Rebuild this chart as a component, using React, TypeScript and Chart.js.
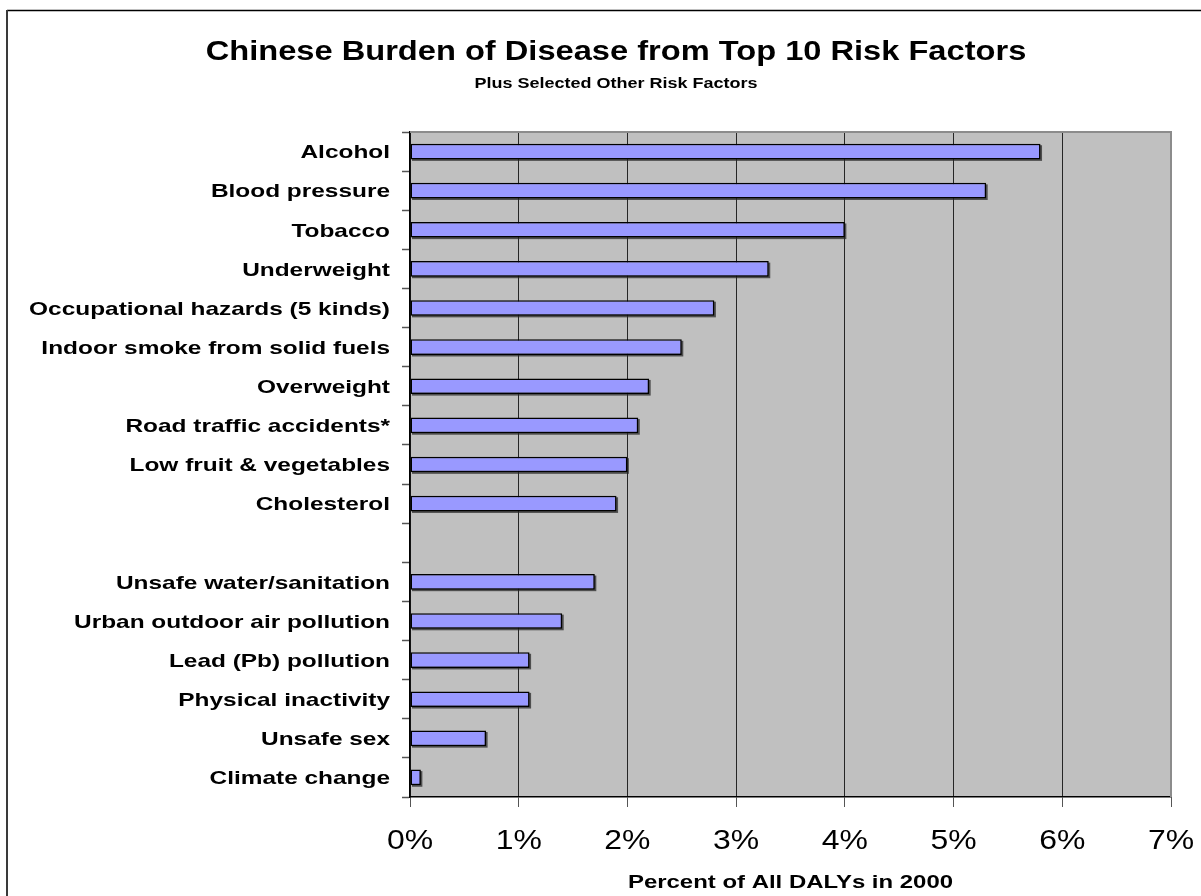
import React, { useEffect, useRef } from "react";
import { Chart, registerables } from "chart.js";

Chart.register(...registerables);

// Risk factors, top to bottom; the empty entry separates the top ten from the others.
const riskFactors = [
  "Alcohol",
  "Blood pressure",
  "Tobacco",
  "Underweight",
  "Occupational hazards (5 kinds)",
  "Indoor smoke from solid fuels",
  "Overweight",
  "Road traffic accidents*",
  "Low fruit & vegetables",
  "Cholesterol",
  "",
  "Unsafe water/sanitation",
  "Urban outdoor air pollution",
  "Lead (Pb) pollution",
  "Physical inactivity",
  "Unsafe sex",
  "Climate change",
];

// Share of all DALYs in 2000, percent.
const dalyPercent = [
  5.8, 5.3, 4.0, 3.3, 2.8, 2.5, 2.2, 2.1, 2.0, 1.9, null, 1.7, 1.4, 1.1, 1.1, 0.7, 0.1,
];

const xTickLabels = ["0%", "1%", "2%", "3%", "4%", "5%", "6%", "7%"];

const chartTitle = "Chinese Burden of Disease from Top 10 Risk Factors";
const chartSubtitle = "Plus Selected Other Risk Factors";
const xAxisTitle = "Percent of All DALYs in 2000";

const FONT = '"Liberation Sans", Arial, Helvetica, sans-serif';

// Draws text with a horizontal stretch factor, anchored at (x, baseline y).
function drawWideText(
  ctx: CanvasRenderingContext2D,
  text: string,
  x: number,
  y: number,
  font: string,
  sx: number,
  align: "left" | "center" | "right"
) {
  ctx.save();
  ctx.font = font;
  ctx.fillStyle = "#000";
  ctx.textAlign = "left";
  ctx.textBaseline = "alphabetic";
  const w = ctx.measureText(text).width * sx;
  const left = align === "right" ? x - w : align === "center" ? x - w / 2 : x;
  ctx.translate(left, y);
  ctx.scale(sx, 1);
  ctx.fillText(text, 0, 0);
  ctx.restore();
}

const framePlugin = {
  id: "frameAndText",
  beforeDraw(chart: any) {
    const { ctx, chartArea } = chart;
    ctx.save();
    ctx.fillStyle = "#ffffff";
    ctx.fillRect(0, 0, chart.width, chart.height);
    ctx.fillStyle = "#c0c0c0";
    ctx.fillRect(
      chartArea.left,
      chartArea.top,
      chartArea.right - chartArea.left,
      chartArea.bottom - chartArea.top
    );
    // outer chart frame
    ctx.strokeStyle = "#000";
    ctx.lineWidth = 1.5;
    ctx.beginPath();
    ctx.moveTo(7, 10.5);
    ctx.lineTo(chart.width + 5, 10.5);
    ctx.stroke();
    ctx.strokeStyle = "#3a3a3a";
    ctx.lineWidth = 2;
    ctx.beginPath();
    ctx.moveTo(7, 10);
    ctx.lineTo(7, chart.height + 5);
    ctx.stroke();
    ctx.restore();
  },
  beforeDatasetsDraw(chart: any) {
    // small drop shadow under each bar
    const { ctx } = chart;
    const meta = chart.getDatasetMeta(0);
    ctx.save();
    ctx.fillStyle = "rgba(40,40,40,0.75)";
    meta.data.forEach((bar: any, i: number) => {
      if (dalyPercent[i] == null) return;
      const p = bar.getProps(["x", "y", "base", "height"], true);
      ctx.fillRect(p.base + 1.5, p.y - p.height / 2 + 1.5, p.x - p.base, p.height);
    });
    ctx.restore();
  },
  afterDraw(chart: any) {
    const { ctx, chartArea } = chart;
    // plot area top and right edges
    ctx.save();
    ctx.strokeStyle = "#8c8c8c";
    ctx.lineWidth = 2;
    ctx.beginPath();
    ctx.moveTo(chartArea.left, chartArea.top);
    ctx.lineTo(chartArea.right, chartArea.top);
    ctx.lineTo(chartArea.right, chartArea.bottom);
    ctx.stroke();
    ctx.restore();

    const yScale = chart.scales.y;
    riskFactors.forEach((label, i) => {
      if (!label) return;
      const y = yScale.getPixelForTick(i);
      drawWideText(ctx, label, 390, y + 6.8, `bold 19px ${FONT}`, 1.285, "right");
    });

    const xScale = chart.scales.x;
    xScale.ticks.forEach((t: any, i: number) => {
      const x = xScale.getPixelForValue(t.value);
      drawWideText(ctx, xTickLabels[i], x, 849, `28px ${FONT}`, 1.14, "center");
    });

    const cx = 616;
    drawWideText(ctx, chartTitle, cx, 60, `bold 28px ${FONT}`, 1.165, "center");
    drawWideText(ctx, chartSubtitle, cx, 88, `bold 15px ${FONT}`, 1.2, "center");
    drawWideText(
      ctx,
      xAxisTitle,
      (chartArea.left + chartArea.right) / 2,
      888,
      `bold 19px ${FONT}`,
      1.26,
      "center"
    );
  },
};

export default function App() {
  const canvasRef = useRef<HTMLCanvasElement | null>(null);

  useEffect(() => {
    const canvas = canvasRef.current;
    if (!canvas) return;
    const chart = new Chart(canvas, {
      type: "bar",
      data: {
        labels: riskFactors,
        datasets: [
          {
            data: dalyPercent,
            backgroundColor: "#9999ff",
            borderColor: "#000000",
            borderWidth: 1.5,
            borderSkipped: false,
            barPercentage: 0.4,
            categoryPercentage: 1,
          },
        ],
      },
      options: {
        indexAxis: "y",
        responsive: false,
        animation: false,
        devicePixelRatio: 1,
        layout: { padding: { top: 132, right: 30, bottom: 0, left: 0 } },
        plugins: {
          legend: { display: false },
          title: { display: false },
          tooltip: { enabled: false },
        },
        scales: {
          y: {
            type: "category",
            offset: true,
            grid: {
              offset: true,
              drawOnChartArea: false,
              drawTicks: true,
              tickLength: 8,
              tickColor: "#555555",
              tickWidth: 1.5,
            },
            border: { display: true, color: "#000000", width: 1.5 },
            ticks: { display: false },
            afterFit: (scale: any) => {
              scale.width = 410;
            },
          },
          x: {
            type: "linear",
            min: 0,
            max: 7,
            ticks: { display: false, stepSize: 1 },
            grid: {
              drawOnChartArea: true,
              drawTicks: true,
              tickLength: 10,
              tickColor: "#555555",
              color: (c: any) =>
                c.tick && c.tick.value === 7 ? "rgba(0,0,0,0)" : "#262626",
              lineWidth: 1,
            },
            border: { display: true, color: "#000000", width: 1.5 },
            afterFit: (scale: any) => {
              scale.height = 99;
            },
          },
        },
      },
      plugins: [framePlugin],
    });
    return () => chart.destroy();
  }, []);

  return (
    <div style={{ position: "absolute", left: 0, top: 0, width: 1201, height: 896 }}>
      <canvas ref={canvasRef} width={1201} height={896} style={{ display: "block" }} />
    </div>
  );
}
